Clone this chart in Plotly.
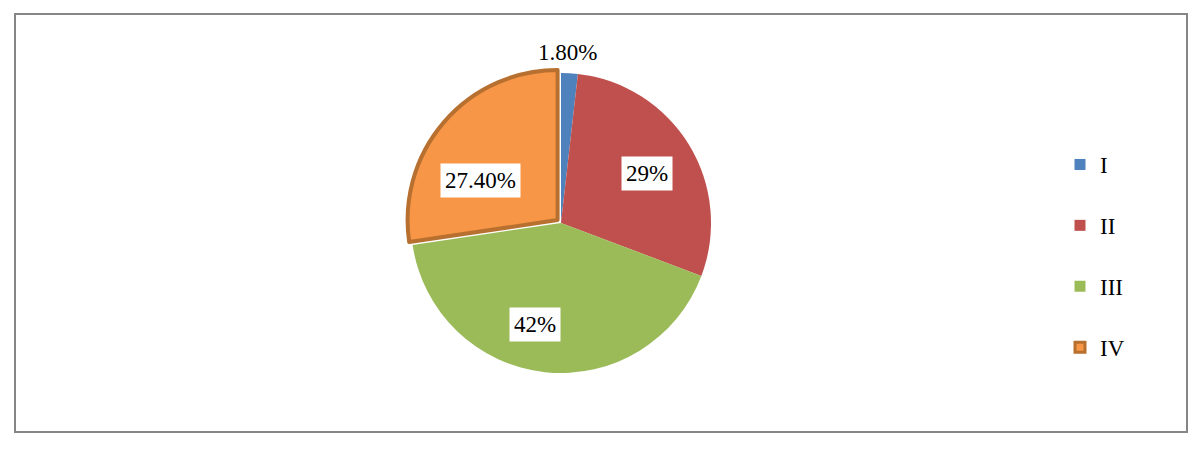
import math
import plotly.graph_objects as go

# ---- data ----
categories = ["I", "II", "III", "IV"]
values = [1.8, 29, 42, 27.4]
label_texts = ["1.80%", "29%", "42%", "27.40%"]

# ---- styles ----
colors = ["#4F81BD", "#C0504D", "#9BBB59", "#F79646"]
line_colors = ["#4F81BD", "#C0504D", "#9BBB59", "#B7702F"]
line_widths = [0, 0, 0, 4]
pulls = [0, 0, 0, 0.03]
label_radius = [1.14, 0.66, 0.70, 0.575]     # fraction of pie radius
label_angle_shift = [-1, 1.5, 8, -13.8]       # degrees, label placement nudge
FONT = "Liberation Serif"

W, H = 1202, 450
cx_px, cy_px, R_px = 561, 223, 150
maxpull = max(pulls)
size = 2 * R_px * (1 + maxpull)
dom_x = [(cx_px - size / 2) / W, (cx_px + size / 2) / W]
dom_y = [1 - (cy_px + size / 2) / H, 1 - (cy_px - size / 2) / H]

fig = go.Figure()
fig.add_trace(go.Pie(
    labels=categories, values=values, sort=False, direction="clockwise",
    rotation=0, pull=pulls, textinfo="none", hoverinfo="label+value",
    marker=dict(colors=colors, line=dict(color=line_colors, width=line_widths)),
    domain=dict(x=dom_x, y=dom_y), showlegend=False,
))

# legend entries
for i, c in enumerate(categories):
    fig.add_trace(go.Scatter(
        x=[None], y=[None], mode="markers", name=c, legendgroup=c,
        marker=dict(symbol="square", size=11 if i < 3 else 10, color=colors[i],
                    line=dict(color=line_colors[i], width=0 if i < 3 else 3)),
    ))

# data labels, positioned from slice geometry
total = sum(values)
cum = 0
for i, v in enumerate(values):
    mid = (cum + v / 2) / total * 360
    cum += v
    ang = math.radians(mid + label_angle_shift[i])
    mid_r = math.radians(mid)
    r = label_radius[i] * R_px
    px = cx_px + r * math.sin(ang) + pulls[i] * R_px * math.sin(mid_r)
    py = cy_px - r * math.cos(ang) - pulls[i] * R_px * math.cos(mid_r)
    fig.add_annotation(
        x=px / W, y=1 - py / H, xref="paper", yref="paper", text=label_texts[i],
        xanchor="center", yanchor="middle",
        showarrow=False, font=dict(family=FONT, size=23, color="#000000"),
        bgcolor="#FFFFFF" if i > 0 else "rgba(0,0,0,0)",
        bordercolor="rgba(0,0,0,0)", borderwidth=1, borderpad=4,
    )

# outer frame
fig.add_shape(type="rect", xref="paper", yref="paper",
              x0=15 / W, x1=1187 / W, y0=1 - 432 / H, y1=1 - 14 / H,
              line=dict(color="#868686", width=2), fillcolor="rgba(0,0,0,0)")

fig.update_layout(
    width=W, height=H, margin=dict(l=0, r=0, t=0, b=0),
    paper_bgcolor="#FFFFFF", plot_bgcolor="#FFFFFF",
    xaxis=dict(visible=False), yaxis=dict(visible=False),
    legend=dict(x=1060 / W, xanchor="left", y=1 - 143 / H, yanchor="top",
                font=dict(family=FONT, size=23, color="#000000"),
                tracegroupgap=28, bgcolor="rgba(0,0,0,0)"),
    showlegend=True,
)

fig.write_html("out.html", config={"displayModeBar": False},
               post_script="document.body.style.margin='0px';")
